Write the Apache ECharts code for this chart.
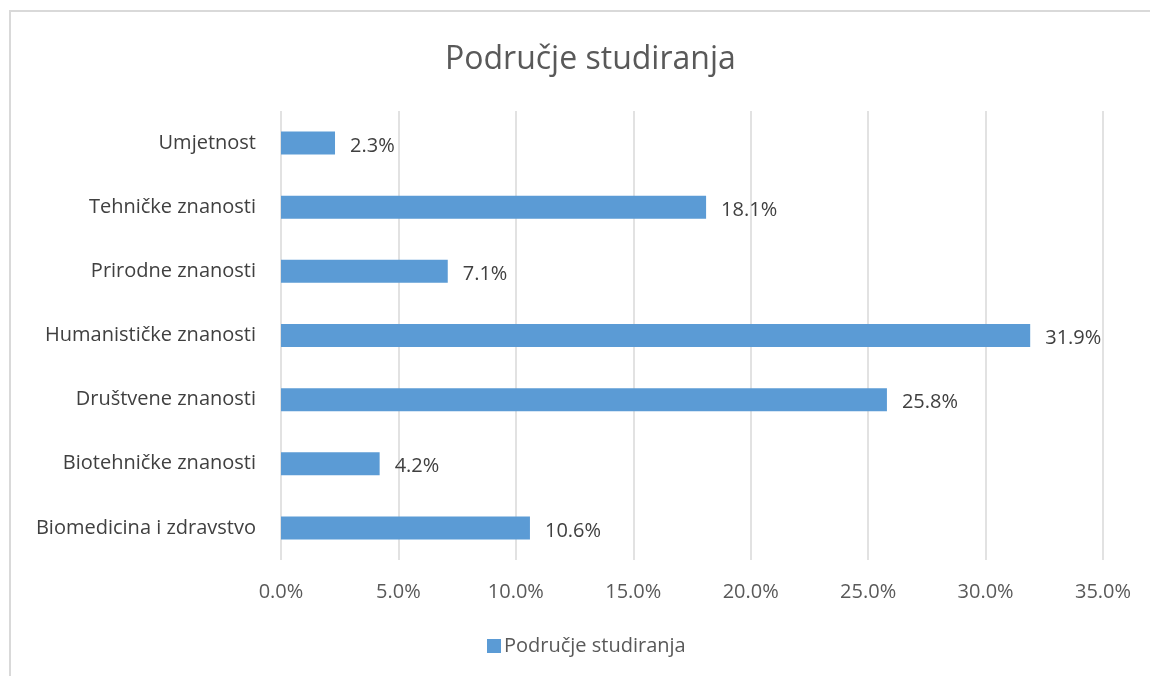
<!DOCTYPE html>
<html>
<head>
<meta charset="utf-8">
<script src="https://cdn.jsdelivr.net/npm/echarts@6/dist/echarts.min.js"></script>
<style>
  html, body { margin: 0; padding: 0; background: #fff; overflow: hidden; }
  #frame { position: absolute; left: 9px; top: 10px; width: 1200px; height: 700px;
           border-top: 2px solid #d9d9d9; border-left: 2px solid #d9d9d9; box-sizing: border-box; }
  #chart { position: absolute; left: 0; top: 0; width: 1150px; height: 676px; }
</style>
</head>
<body>
<div id="frame"></div>
<div id="chart"></div>
<script>
// podaci
var categories = ['Biomedicina i zdravstvo', 'Biotehničke znanosti', 'Društvene znanosti',
  'Humanističke znanosti', 'Prirodne znanosti', 'Tehničke znanosti', 'Umjetnost'];
var values = [10.6, 4.2, 25.8, 31.9, 7.1, 18.1, 2.3];
var seriesName = 'Područje studiranja';

var font = '"Open Sans", "DejaVu Sans", sans-serif';
var myChart = echarts.init(document.getElementById('chart'));
var option = {
  backgroundColor: 'transparent',
  title: {
    text: 'Područje studiranja',
    left: 440,
    top: 39,
    textStyle: { fontFamily: font, fontSize: 32, fontWeight: 'normal', color: '#595959' }
  },
  legend: {
    data: [seriesName],
    bottom: 15,
    left: 482,
    itemWidth: 14,
    itemHeight: 14,
    icon: 'rect',
    itemGap: 6,
    textStyle: { fontFamily: font, fontSize: 20, color: '#595959', padding: [0, 0, 0, -2] }
  },
  grid: { left: 281, right: 47, top: 111, bottom: 116 },
  xAxis: {
    type: 'value',
    min: 0,
    max: 35,
    interval: 5,
    axisLine: { show: false },
    axisTick: { show: false },
    splitLine: { lineStyle: { color: '#d9d9d9', width: 1.5 } },
    axisLabel: {
      fontFamily: font, fontSize: 20, color: '#595959', margin: 22,
      formatter: function (v) { return v.toFixed(1) + '%'; }
    }
  },
  yAxis: {
    type: 'category',
    data: categories,
    axisLine: { show: false },
    axisTick: { show: false },
    axisLabel: { fontFamily: font, fontSize: 20, color: '#404040', margin: 25 }
  },
  series: [{
    name: seriesName,
    type: 'bar',
    data: values,
    barWidth: 23,
    itemStyle: { color: '#5b9bd5' },
    label: {
      show: true,
      position: 'right',
      distance: 15,
      offset: [0, 3],
      fontFamily: font,
      fontSize: 20,
      color: '#404040',
      formatter: function (p) { return p.value.toFixed(1) + '%'; }
    }
  }]
};
if (option && typeof option === "object") {
  myChart.setOption(option, true);
}
</script>
</body>
</html>
